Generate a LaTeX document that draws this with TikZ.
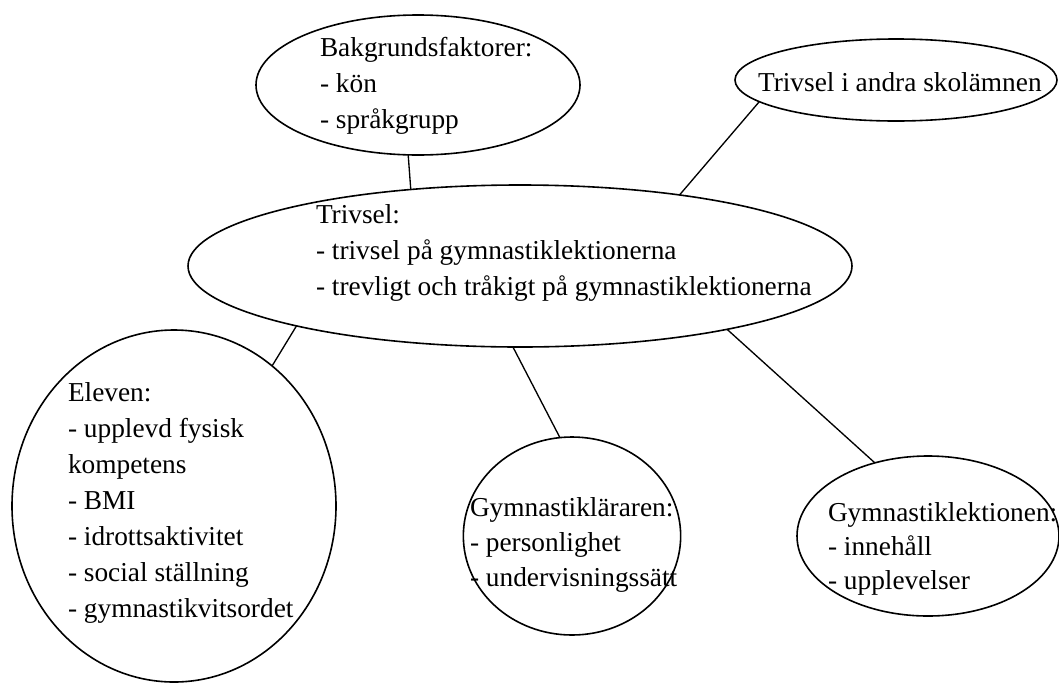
\documentclass[tikz,border=0pt]{standalone}
\usepackage{fontspec}
\setmainfont{Liberation Serif}
\usetikzlibrary{shapes.geometric}
\begin{document}
\begin{tikzpicture}[x=0.75pt,y=-0.75pt,
  oval/.style={draw, ellipse, inner sep=0pt, outer sep=0pt, line width=1.2pt},
  lbl/.style={anchor=base west, inner sep=0pt, outer sep=0pt, font=\fontsize{20.5}{24}\selectfont},
  link/.style={line width=1pt}]
\useasboundingbox (0,0) rectangle (1059,682);
% ellipses
\node[oval, minimum width=243pt, minimum height=105pt] (bak) at (418,85) {};
\node[oval, minimum width=241.5pt, minimum height=61.5pt] (andra) at (896,80) {};
\node[oval, minimum width=498pt, minimum height=121.5pt] (triv) at (520,266) {};
\node[oval, minimum width=243pt, minimum height=264pt] (elev) at (174,506) {};
\node[oval, minimum width=163pt, minimum height=148.5pt] (larare) at (572,536) {};
\node[oval, minimum width=196.5pt, minimum height=120pt] (lekt) at (928,536) {};
% texts
\node[lbl] (bak1) at (320,56) {Bakgrundsfaktorer:};
\node[lbl] (bak2) at (320,92) {- kön};
\node[lbl] (bak3) at (320,128) {- språkgrupp};
\node[lbl] (andra1) at (758,91) {Trivsel i andra skolämnen};
\node[lbl] (triv1) at (316,223) {Trivsel:};
\node[lbl] (triv2) at (316,259) {- trivsel på gymnastiklektionerna};
\node[lbl] (triv3) at (316,295) {- trevligt och tråkigt på gymnastiklektionerna};
\node[lbl] (elev1) at (68,401) {Eleven:};
\node[lbl] (elev2) at (68,437) {- upplevd fysisk};
\node[lbl] (elev3) at (68,473) {kompetens};
\node[lbl] (elev4) at (68,509) {- BMI};
\node[lbl] (elev5) at (68,545) {- idrottsaktivitet};
\node[lbl] (elev6) at (68,581) {- social ställning};
\node[lbl] (elev7) at (68,617) {- gymnastikvitsordet};
\node[lbl] (lar1) at (470,516) {Gymnastikläraren:};
\node[lbl] (lar2) at (470,551) {- personlighet};
\node[lbl] (lar3) at (470,586) {- undervisningssätt};
\node[lbl] (lek1) at (828,521) {Gymnastiklektionen:};
\node[lbl] (lek2) at (828,555) {- innehåll};
\node[lbl] (lek3) at (828,589) {- upplevelser};
% connectors
\draw[link] (bak.-98) -- (triv.145.8);
\draw[link] (andra.-171.8) -- (triv.24.5);
\draw[link] (triv.195.5) -- (elev.55);
\draw[link] (triv.-95) -- (larare.97.5);
\draw[link] (triv.-17.5) -- (lekt.126);
\end{tikzpicture}
\end{document}
